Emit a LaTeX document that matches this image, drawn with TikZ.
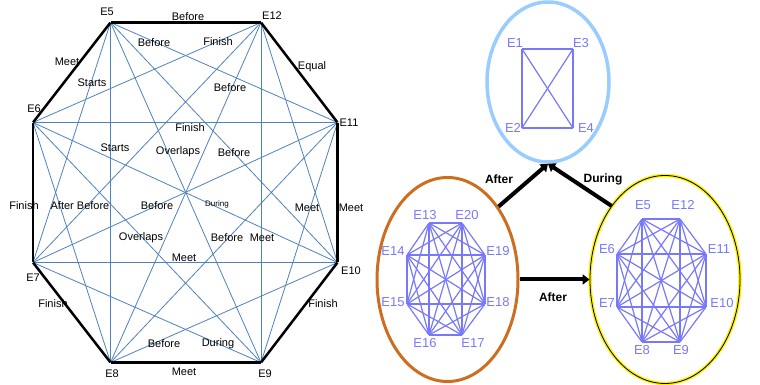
\documentclass[tikz,border=0pt]{standalone}
\usepackage{fontspec}
\setmainfont{Liberation Sans}
\usepackage{tkz-berge}
\usetikzlibrary{shapes.geometric,arrows.meta}

\definecolor{officeblue}{RGB}{79,129,189}
\definecolor{eventviolet}{RGB}{120,120,250}
\definecolor{skyring}{RGB}{153,204,255}
\definecolor{amberring}{RGB}{204,110,30}

\tikzset{
  rel/.style={font=\fontsize{11}{13}\selectfont, inner sep=0pt},
  ev/.style={font=\fontsize{13}{15}\selectfont, text=eventviolet, inner sep=0pt},
  ringset/.style={ellipse, inner sep=0pt, line width=3pt},
  link/.style={line width=4pt, -{Triangle[length=7pt,width=10pt]}},
  linklabel/.style={font=\bfseries\fontsize{12}{14}\selectfont, inner sep=0pt}
}

\begin{document}
\begin{tikzpicture}
\useasboundingbox (0pt,0pt) rectangle (760pt,385pt);

\GraphInit[vstyle=Simple]
\tikzset{VertexStyle/.append style = {minimum size=0pt, inner sep=0pt, draw=none, fill=none}}

% octagon of relations
\Vertex[x=110.5pt,y=362.5pt]{o5};
\Vertex[x=261pt,y=362.5pt]{o12};
\Vertex[x=337.5pt,y=262.5pt]{o11};
\Vertex[x=337.5pt,y=122.5pt]{o10};
\Vertex[x=261pt,y=22.5pt]{o9};
\Vertex[x=110.5pt,y=22.5pt]{o8};
\Vertex[x=33pt,y=122.5pt]{o7};
\Vertex[x=33pt,y=262.5pt]{o6};

\SetUpEdge[lw=0.8pt,color=officeblue]
\foreach \a/\bs in {5/{11,10,9,8,7}, 12/{10,9,8,7,6}, 11/{9,8,7,6}, 10/{8,7,6}, 9/{7,6}, 8/{6}}
  {\foreach \b in \bs {\Edge(o\a)(o\b)}}

\SetUpEdge[lw=2.5pt,color=black]
\Edge(o5)(o12)
\Edge(o12)(o11)
\Edge(o11)(o10)
\Edge(o10)(o9)
\Edge(o9)(o8)
\Edge(o8)(o7)
\Edge(o7)(o6)
\Edge(o6)(o5)

\node[rel] (lo5) at (107pt,373pt) {E5};
\node[rel] (lo12) at (272pt,369pt) {E12};
\node[rel] (lo11) at (349pt,262pt) {E11};
\node[rel] (lo10) at (351pt,114pt) {E10};
\node[rel] (lo9) at (265pt,11pt) {E9};
\node[rel] (lo8) at (112pt,11pt) {E8};
\node[rel] (lo7) at (33pt,107pt) {E7};
\node[rel] (lo6) at (34pt,276pt) {E6};

\node[rel] (rel1) at (188pt,368pt) {Before};
\node[rel] (rel2) at (312pt,318pt) {Equal};
\node[rel] (rel3) at (67pt,323pt) {Meet};
\node[rel] (rel4) at (92pt,302pt) {Starts};
\node[rel] (rel5) at (154pt,342pt) {Before};
\node[rel] (rel6) at (218pt,343pt) {Finish};
\node[rel] (rel7) at (230pt,297pt) {Before};
\node[rel] (rel8) at (190pt,257pt) {Finish};
\node[rel] (rel9) at (115pt,237pt) {Starts};
\node[rel] (rel10) at (178pt,233pt) {Overlaps};
\node[rel] (rel11) at (234pt,232pt) {Before};
\node[rel] (rel12) at (24pt,179pt) {Finish};
\node[rel] (rel13) at (80pt,179pt) {After Before};
\node[rel] (rel14) at (157pt,179pt) {Before};
\node[rel, font=\fontsize{8}{9}\selectfont] (rel15) at (217pt,181pt) {During};
\node[rel] (rel16) at (307pt,177pt) {Meet};
\node[rel] (rel17) at (351pt,177pt) {Meet};
\node[rel] (rel18) at (227pt,147pt) {Before};
\node[rel] (rel19) at (262pt,147pt) {Meet};
\node[rel] (rel20) at (141pt,147pt) {Overlaps};
\node[rel] (rel21) at (184pt,127pt) {Meet};
\node[rel] (rel22) at (53pt,81pt) {Finish};
\node[rel] (rel23) at (323pt,81pt) {Finish};
\node[rel] (rel24) at (164pt,41pt) {Before};
\node[rel] (rel25) at (218pt,41pt) {During};
\node[rel] (rel26) at (184pt,13pt) {Meet};

% the three groups of events
\node[ringset, draw=skyring, line width=3.5pt, minimum width=122pt, minimum height=160pt] (topset) at (548pt,303pt) {};
\node[ringset, draw=amberring, minimum width=141pt, minimum height=204pt] (leftset) at (447.5pt,105.5pt) {};
\node[ringset, draw=black, line width=0.8pt, preaction={draw=yellow, line width=3.5pt}, minimum width=150pt, minimum height=208pt] (rightset) at (665pt,105.5pt) {};

\Vertex[x=522pt,y=336pt]{t1};
\Vertex[x=573pt,y=336pt]{t3};
\Vertex[x=522pt,y=257pt]{t2};
\Vertex[x=573pt,y=257pt]{t4};

\Vertex[x=429pt,y=162pt]{w13};
\Vertex[x=462pt,y=162pt]{w20};
\Vertex[x=485pt,y=130pt]{w19};
\Vertex[x=485pt,y=81pt]{w18};
\Vertex[x=462pt,y=50pt]{w17};
\Vertex[x=429pt,y=50pt]{w16};
\Vertex[x=407pt,y=81pt]{w15};
\Vertex[x=407pt,y=130pt]{w14};

\Vertex[x=642pt,y=166pt]{e5};
\Vertex[x=680pt,y=166pt]{e12};
\Vertex[x=706pt,y=131pt]{e11};
\Vertex[x=706pt,y=78pt]{e10};
\Vertex[x=680pt,y=43pt]{e9};
\Vertex[x=642pt,y=43pt]{e8};
\Vertex[x=617pt,y=78pt]{e7};
\Vertex[x=617pt,y=131pt]{e6};

\SetUpEdge[lw=1.2pt,color=eventviolet]
\foreach \a/\bs in {1/{3,2,4}, 3/{2,4}, 2/{4}}
  {\foreach \b in \bs {\Edge(t\a)(t\b)}}
\foreach \a/\bs in {13/{20,19,18,17,16,15,14}, 20/{19,18,17,16,15,14}, 19/{18,17,16,15,14}, 18/{17,16,15,14}, 17/{16,15,14}, 16/{15,14}, 15/{14}}
  {\foreach \b in \bs {\Edge(w\a)(w\b)}}
\foreach \a/\bs in {5/{12,11,10,9,8,7,6}, 12/{11,10,9,8,7,6}, 11/{10,9,8,7,6}, 10/{9,8,7,6}, 9/{8,7,6}, 8/{7,6}, 7/{6}}
  {\foreach \b in \bs {\Edge(e\a)(e\b)}}

\node[ev] (lt1) at (515pt,342pt) {E1};
\node[ev] (lt3) at (581pt,342pt) {E3};
\node[ev] (lt2) at (513pt,257pt) {E2};
\node[ev] (lt4) at (586pt,257pt) {E4};

\node[ev] (lw13) at (425pt,170pt) {E13};
\node[ev] (lw20) at (467pt,170pt) {E20};
\node[ev] (lw19) at (498pt,134pt) {E19};
\node[ev] (lw18) at (498pt,83pt) {E18};
\node[ev] (lw17) at (473pt,42pt) {E17};
\node[ev] (lw16) at (425pt,42pt) {E16};
\node[ev] (lw15) at (393pt,83pt) {E15};
\node[ev] (lw14) at (393pt,134pt) {E14};

\node[ev] (le5) at (643pt,180pt) {E5};
\node[ev] (le12) at (683pt,180pt) {E12};
\node[ev] (le11) at (719pt,136pt) {E11};
\node[ev] (le10) at (722pt,82pt) {E10};
\node[ev] (le9) at (681pt,35pt) {E9};
\node[ev] (le8) at (642pt,35pt) {E8};
\node[ev] (le7) at (607pt,82pt) {E7};
\node[ev] (le6) at (607pt,136pt) {E6};

% relations between the groups
\draw[link] (leftset.55) -- (topset.south);
\draw[link] (rightset.126) -- (topset.south);
\draw[link] (leftset.east) -- (rightset.west);

\node[linklabel] (after1) at (499pt,206pt) {After};
\node[linklabel] (during1) at (603pt,206pt) {During};
\node[linklabel] (after2) at (553pt,88pt) {After};

\end{tikzpicture}
\end{document}
